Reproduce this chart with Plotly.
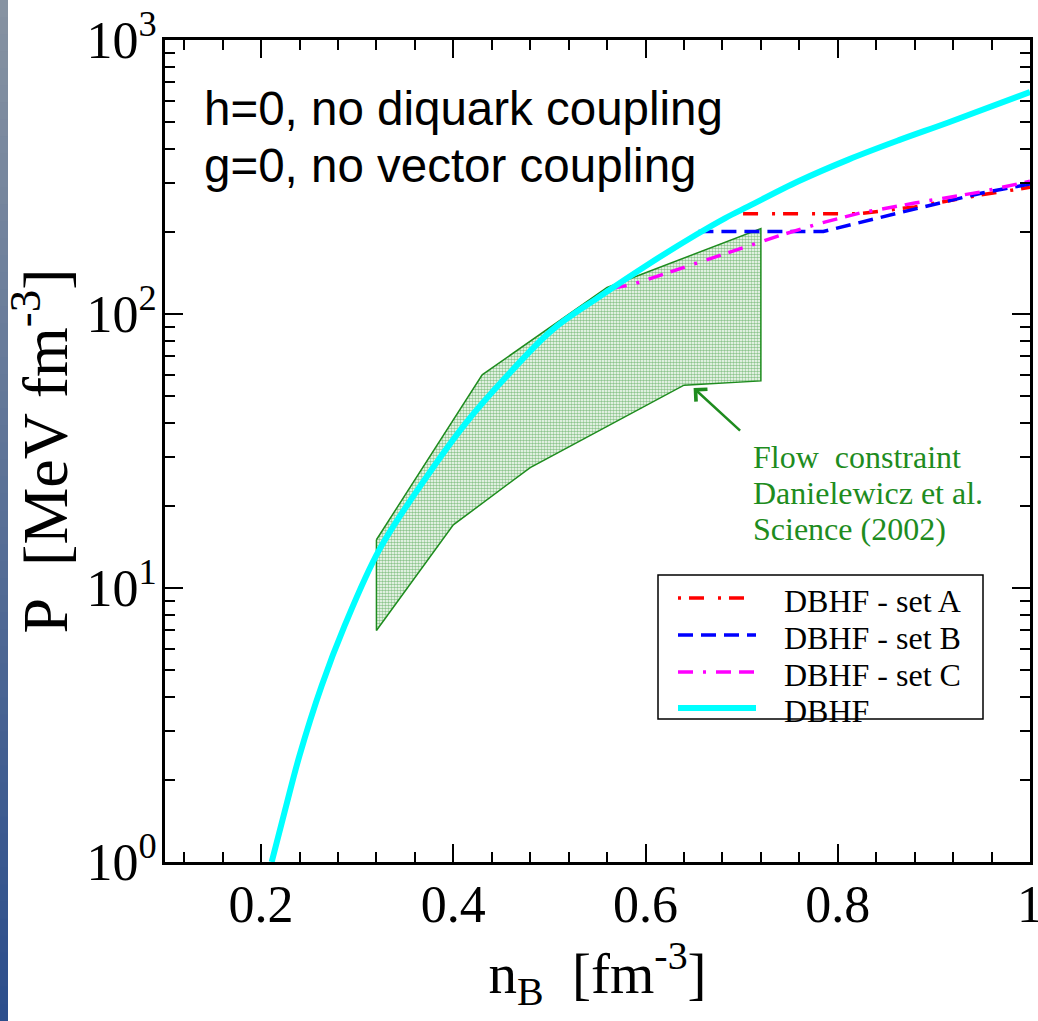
import plotly.graph_objects as go
import numpy as np

# ---------------- data ----------------
n_dbhf = [0.211, 0.225, 0.240, 0.263, 0.287, 0.323, 0.372, 0.413, 0.455, 0.503, 0.551,
          0.603, 0.653, 0.683, 0.707, 0.759, 0.811, 0.863, 0.915, 1.0]
p_dbhf = [1.0, 1.55, 2.45, 4.4, 7.3, 13.8, 25.4, 40, 59, 87.5, 115,
          152, 195, 224, 247, 305, 366, 430, 500, 646]

n_setA = [0.690, 0.821, 0.880, 0.949, 1.0]
p_setA = [232, 232, 246, 272, 290]

n_setB = [0.655, 0.785, 0.866, 0.949, 1.0]
p_setB = [200, 200, 235, 276, 298]

n_setC = [0.565, 0.586, 0.669, 0.741, 0.783, 0.824, 0.880, 0.949, 1.0]
p_setC = [124, 128, 160, 194, 215, 234, 254, 279, 305]

band_n = [0.32, 0.43, 0.56, 0.72, 0.72, 0.64, 0.48, 0.40, 0.32, 0.32]
band_p = [15, 60, 125, 205, 57, 55, 27.5, 17, 7, 15]

x_ticks = [0.2, 0.4, 0.6, 0.8, 1.0]
x_ticklabels = ["0.2", "0.4", "0.6", "0.8", "1"]
y_ticks = [1, 10, 100, 1000]
y_ticklabels = ["10<sup>0</sup>", "10<sup>1</sup>", "10<sup>2</sup>", "10<sup>3</sup>"]
y_minor = [m * d for d in (1, 10, 100) for m in range(2, 10)]

legend_names = ["DBHF - set A", "DBHF - set B", "DBHF - set C", "DBHF"]

# ---------------- styles ----------------
SERIF = "Liberation Serif"
SANS = "Liberation Sans"
GREEN = "#1e8c1e"
styles = [
    dict(color="#ff0000", width=3.5, dash="3px,8px,15px,14px"),
    dict(color="#0000ff", width=3.5, dash="15px,8px"),
    dict(color="#ff00ff", width=3.5, dash="15px,10px,3px,10px,15px,8px"),
    dict(color="#00ffff", width=6, dash="solid"),
]

W, H = 1038, 1021
L, R, T, B = 165, 8, 40, 159
pw, ph = W - L - R, H - T - B

def px2paper_x(px):
    return (px - L) / pw

def px2paper_y(py):
    return (H - B - py) / ph

fig = go.Figure()

fig.add_trace(go.Scatter(
    x=band_n, y=band_p, mode="lines", fill="toself",
    line=dict(color=GREEN, width=1.5),
    fillcolor="rgba(255,255,255,0)",
    fillpattern=dict(shape=".", fgcolor=GREEN, bgcolor="white", size=3, solidity=0.55),
    showlegend=False, hoverinfo="skip"))

fig.add_trace(go.Scatter(x=n_setA, y=p_setA, mode="lines", name=legend_names[0],
                         line=styles[0], showlegend=False))
fig.add_trace(go.Scatter(x=n_setB, y=p_setB, mode="lines", name=legend_names[1],
                         line=styles[1], showlegend=False))
fig.add_trace(go.Scatter(x=n_setC, y=p_setC, mode="lines", name=legend_names[2],
                         line=styles[2], showlegend=False))
fig.add_trace(go.Scatter(x=n_dbhf, y=p_dbhf, mode="lines", name=legend_names[3],
                         line=dict(color="#00ffff", width=6, shape="spline", smoothing=1.0),
                         showlegend=False))

axis_common = dict(showline=True, linewidth=3, linecolor="black", mirror="allticks",
                   ticks="inside", ticklen=18, tickwidth=2, tickcolor="black",
                   showgrid=False, zeroline=False, ticklabeloverflow="allow",
                   tickfont=dict(family=SERIF, size=52, color="black"))

fig.update_xaxes(range=[0.1, 1.0], tickmode="array", tickvals=x_ticks, ticktext=x_ticklabels,
                 minor=dict(ticks="inside", ticklen=10, tickwidth=2, tickcolor="black",
                            tick0=0, dtick=0.04, showgrid=False),
                 ticklabelstandoff=-5,
                 title=dict(text="n<sub>B</sub>\u00a0\u00a0[fm<sup>-3</sup>]",
                            font=dict(family=SERIF, size=57, color="black"), standoff=10),
                 **axis_common)
fig.update_yaxes(type="log", range=[0, 3], tickmode="array", tickvals=y_ticks, ticktext=y_ticklabels,
                 minor=dict(ticks="inside", ticklen=10, tickwidth=2, tickcolor="black",
                            tickvals=y_minor, showgrid=False),
                 ticklabelstandoff=-5,
                 title=dict(text="P\u00a0\u00a0[MeV fm<sup>-3</sup>]",
                            font=dict(family=SERIF, size=64, color="black"), standoff=2),
                 **axis_common)

annotations = [
    dict(text="h=0, no diquark coupling", x=px2paper_x(202), y=px2paper_y(108),
         font=dict(family=SANS, size=47.5, color="black")),
    dict(text="g=0, no vector coupling", x=px2paper_x(202), y=px2paper_y(165),
         font=dict(family=SANS, size=47.5, color="black")),
    dict(text="Flow\u00a0\u00a0constraint", x=px2paper_x(751), y=px2paper_y(457),
         font=dict(family=SERIF, size=32, color=GREEN)),
    dict(text="Danielewicz et al.", x=px2paper_x(751), y=px2paper_y(493),
         font=dict(family=SERIF, size=32, color=GREEN)),
    dict(text="Science (2002)", x=px2paper_x(751), y=px2paper_y(529),
         font=dict(family=SERIF, size=32, color=GREEN)),
]
for a in annotations:
    a.update(xref="paper", yref="paper", xanchor="left", yanchor="middle", showarrow=False)
    fig.add_annotation(**a)

fig.add_annotation(x=0.650, y=np.log10(53.7), xref="x", yref="y", text="",
                   showarrow=True, arrowhead=4, arrowsize=1.3, arrowwidth=2.5,
                   arrowcolor=GREEN, ax=48, ay=44)

shapes = []

# legend (box, samples, labels)
shapes.append(dict(type="rect", xref="paper", yref="paper",
                   x0=px2paper_x(658), x1=px2paper_x(983),
                   y0=px2paper_y(719), y1=px2paper_y(575),
                   line=dict(color="black", width=1.5), fillcolor="white", layer="above"))
leg_y = [598, 635, 672, 708]
for name, st, yy in zip(legend_names, styles, leg_y):
    shapes.append(dict(type="line", xref="paper", yref="paper",
                       x0=px2paper_x(678), x1=px2paper_x(756),
                       y0=px2paper_y(yy), y1=px2paper_y(yy),
                       line=st, layer="above"))
    fig.add_annotation(text=name, xref="paper", yref="paper",
                       x=px2paper_x(782), y=px2paper_y(yy + 3),
                       xanchor="left", yanchor="middle", showarrow=False,
                       font=dict(family=SERIF, size=32, color="black"))

# left gradient stripe
nseg = 60
top_c = np.array([135, 147, 162])
bot_c = np.array([44, 78, 140])
for i in range(nseg):
    f = i / (nseg - 1)
    c = top_c + (bot_c - top_c) * f
    y0 = i * H / nseg
    y1 = (i + 1) * H / nseg + 1
    shapes.append(dict(type="rect", xref="paper", yref="paper",
                       x0=px2paper_x(0), x1=px2paper_x(8),
                       y0=px2paper_y(y1), y1=px2paper_y(y0),
                       fillcolor="rgb(%d,%d,%d)" % tuple(c.astype(int)),
                       line=dict(width=0), layer="below"))

fig.update_layout(
    width=W, height=H,
    margin=dict(l=L, r=R, t=T, b=B, autoexpand=False),
    paper_bgcolor="white", plot_bgcolor="white",
    shapes=shapes,
    showlegend=False,
)

fig.write_html("out.html")
